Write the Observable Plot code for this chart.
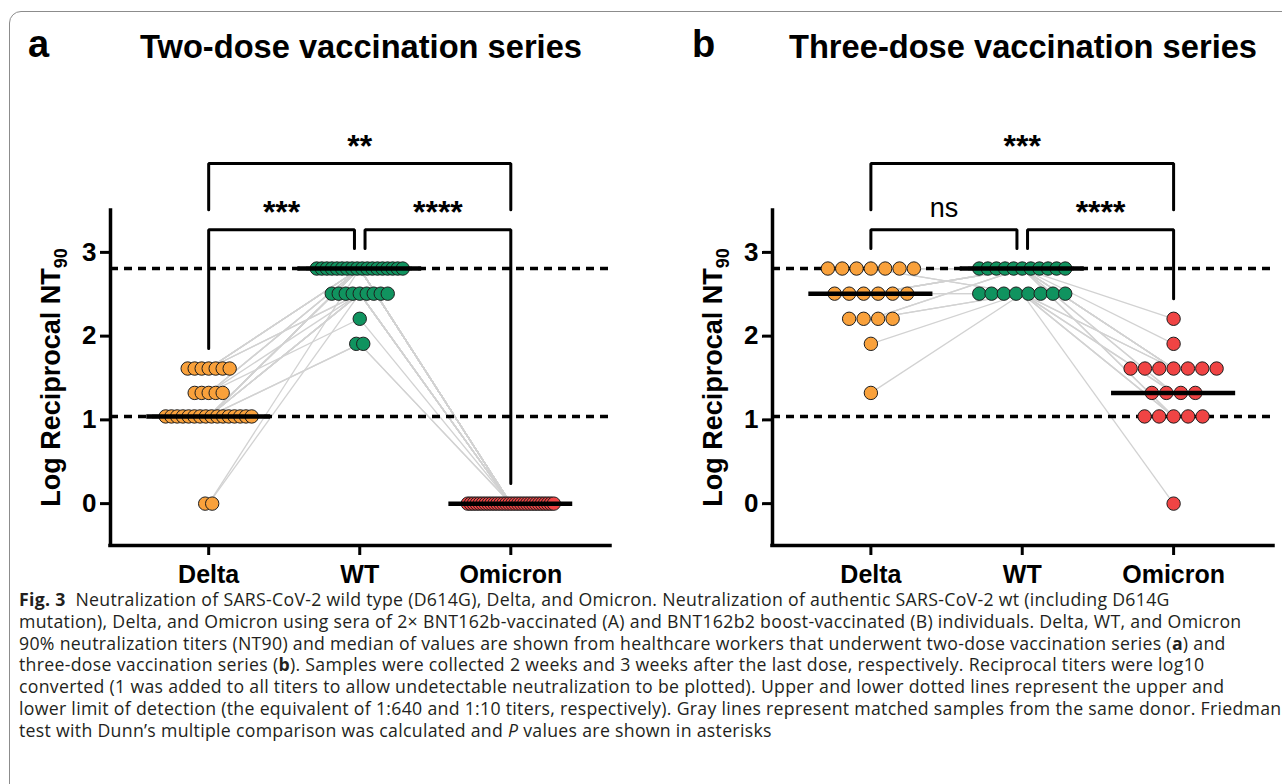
<!DOCTYPE html>
<html><head><meta charset="utf-8">
<script src="https://cdn.jsdelivr.net/npm/d3@7"></script>
<script src="https://cdn.jsdelivr.net/npm/@observablehq/plot@0.6"></script>
<style>
html,body{margin:0;padding:0;background:#fff;width:1282px;height:784px;overflow:hidden;position:relative;}
#frame{position:absolute;left:9px;top:11px;width:1330px;height:830px;border:1.5px solid #8c8c8c;border-radius:12px;}
#titles{position:absolute;left:0;top:0;}
#panelA{position:absolute;left:0;top:100px;}
#panelB{position:absolute;left:641px;top:100px;}
#caption{position:absolute;left:19px;top:589px;font-family:"Open Sans",sans-serif;font-size:17.7px;letter-spacing:0.3px;line-height:21.8px;color:#231f20;white-space:nowrap;}
</style></head><body>
<div id="frame"></div>
<svg id="titles" width="1282" height="90" font-family="Liberation Sans, Arial, sans-serif" font-weight="bold">
<text x="28" y="57" font-size="38">a</text>
<text x="140" y="58" font-size="32.5" textLength="442" lengthAdjust="spacingAndGlyphs">Two-dose vaccination series</text>
<text x="692" y="57" font-size="38">b</text>
<text x="789" y="58" font-size="32.5" textLength="468" lengthAdjust="spacingAndGlyphs">Three-dose vaccination series</text>
</svg>
<div id="panelA"></div>
<div id="panelB"></div>
<div id="caption"><b>Fig. 3</b>&nbsp; Neutralization of SARS-CoV-2 wild type (D614G), Delta, and Omicron. Neutralization of authentic SARS-CoV-2 wt (including D614G<br>mutation), Delta, and Omicron using sera of 2× BNT162b-vaccinated (A) and BNT162b2 boost-vaccinated (B) individuals. Delta, WT, and Omicron<br>90% neutralization titers (NT90) and median of values are shown from healthcare workers that underwent two-dose vaccination series (<b>a</b>) and<br>three-dose vaccination series (<b>b</b>). Samples were collected 2 weeks and 3 weeks after the last dose, respectively. Reciprocal titers were log10<br>converted (1 was added to all titers to allow undetectable neutralization to be plotted). Upper and lower dotted lines represent the upper and<br>lower limit of detection (the equivalent of 1:640 and 1:10 titers, respectively). Gray lines represent matched samples from the same donor. Friedman<br>test with Dunn’s multiple comparison was calculated and <i>P</i> values are shown in asterisks</div>
<script>
const categories = ["Delta", "WT", "Omicron"];
const yTicks = [0, 1, 2, 3];
const detectionLimits = [1.041, 2.807];
const colors = ["#F9A13B", "#10935F", "#F04444"];

// Two-dose series: one entry per donor (log10 reciprocal NT90)
const twoDoseDelta = [0, 0,
  1.041, 1.041, 1.041, 1.041, 1.041, 1.041, 1.041, 1.041, 1.041, 1.041, 1.041, 1.041, 1.041, 1.041, 1.041, 1.041,
  1.322, 1.322, 1.322, 1.322, 1.322,
  1.613, 1.613, 1.613, 1.613, 1.613, 1.613, 1.613];
const twoDoseWT = [2.807, 2.507,
  2.807, 2.507, 2.807, 2.807, 1.908, 2.507, 2.807, 2.807, 2.507, 2.807, 1.908, 2.807, 2.507, 2.807, 2.507, 2.807,
  2.807, 2.207, 2.807, 2.507, 2.807,
  2.807, 2.507, 2.807, 2.807, 2.507, 2.807, 2.807];
const twoDoseOmicron = [0, 0, 0, 0, 0, 0, 0, 0, 0, 0, 0, 0, 0, 0, 0, 0, 0, 0, 0, 0, 0, 0, 0, 0, 0, 0, 0, 0, 0, 0];

// Three-dose series
const threeDoseDelta = [1.322, 1.908, 2.207, 2.207, 2.207, 2.207, 2.507, 2.507, 2.507, 2.507, 2.507, 2.507,
  2.807, 2.807, 2.807, 2.807, 2.807, 2.807, 2.807];
const threeDoseWT = [2.507, 2.507, 2.807, 2.507, 2.807, 2.507, 2.807, 2.807, 2.507, 2.807, 2.507, 2.807,
  2.807, 2.507, 2.807, 2.507, 2.807, 2.807, 2.807];
const threeDoseOmicron = [0, 1.041, 1.613, 1.322, 1.613, 1.041, 2.207, 1.908, 1.613, 1.322, 1.613, 1.041,
  1.613, 1.322, 1.613, 1.041, 1.613, 1.322, 1.041];

const twoDoseStats = [
  {a: 0, b: 2, label: "**", tier: "top"},
  {a: 0, b: 1, label: "***", tier: "low"},
  {a: 1, b: 2, label: "****", tier: "low"}
];
const threeDoseStats = [
  {a: 0, b: 2, label: "***", tier: "top"},
  {a: 0, b: 1, label: "ns", tier: "low"},
  {a: 1, b: 2, label: "****", tier: "low"}
];

function panel(groups, stats, ml, mr, spacing, cap) {
  const width = 641, height = 500, mt = 110, mb = 55;
  const xDomain = [-0.65, 2.66];
  const pxPerUnit = (width - ml - mr) / (xDomain[1] - xDomain[0]);
  const n = groups[0].length;

  const points = [];
  groups.forEach((vals, c) => {
    const rows = d3.group(d3.range(n), i => vals[i]);
    for (const [v, idx] of rows) {
      const k = idx.length;
      const step = k > 1 ? Math.min(spacing, cap / (k - 1)) : 0;
      idx.forEach((i, j) => points.push({x: c + (j - (k - 1) / 2) * step / pxPerUnit, y: v, c}));
    }
  });

  const links = [];
  for (let i = 0; i < n; i++) {
    links.push({x1: 0, y1: groups[0][i], x2: 1, y2: groups[1][i]});
    links.push({x1: 1, y1: groups[1][i], x2: 2, y2: groups[2][i]});
  }

  const medians = groups.map((vals, c) => ({c, y: d3.median(vals)}));
  const maxes = groups.map(v => d3.max(v));

  const gap = 0.035;
  const bracketPts = [], labels = [];
  stats.forEach((s, k) => {
    if (s.tier === "top") {
      bracketPts.push({x: s.a, y: 3.51, z: k}, {x: s.a, y: 4.06, z: k}, {x: s.b, y: 4.06, z: k}, {x: s.b, y: 3.51, z: k});
      labels.push({x: (s.a + s.b) / 2, y: 4.31, text: s.label});
    } else {
      const xa = s.a + (s.a === 1 ? gap : 0), xb = s.b - (s.b === 1 ? gap : 0);
      bracketPts.push({x: xa, y: maxes[s.a] + 0.24, z: k}, {x: xa, y: 3.27, z: k}, {x: xb, y: 3.27, z: k}, {x: xb, y: maxes[s.b] + 0.24, z: k});
      labels.push({x: (xa + xb) / 2, y: 3.52, text: s.label});
    }
  });
  const starLabels = labels.filter(d => d.text !== "ns");
  const nsLabels = labels.filter(d => d.text === "ns");

  const chart = Plot.plot({
    width, height, marginLeft: ml, marginRight: mr, marginTop: mt, marginBottom: mb,
    x: {type: "linear", domain: xDomain, axis: null},
    y: {type: "linear", domain: [-0.5, 3.5], axis: null},
    style: {fontFamily: "Liberation Sans, Arial, sans-serif", fontWeight: "bold", color: "#000", background: "transparent", overflow: "visible"},
    marks: [
      Plot.link(links, {x1: "x1", y1: "y1", x2: "x2", y2: "y2", stroke: "#d2d2d2", strokeWidth: 1.3}),
      Plot.ruleY(detectionLimits, {stroke: "#000", strokeWidth: 3.5, strokeDasharray: "8,6"}),
      Plot.dot(points, {x: "x", y: "y", r: 6.7, fill: d => colors[d.c], stroke: "#1e1e1e", strokeWidth: 1}),
      Plot.ruleY(medians, {y: "y", x1: d => d.c - 0.41, x2: d => d.c + 0.41, stroke: "#000", strokeWidth: 4.5}),
      Plot.ruleX([xDomain[0]], {stroke: "#000", strokeWidth: 3.5, strokeLinecap: "square"}),
      Plot.ruleY([-0.5], {stroke: "#000", strokeWidth: 3.5, strokeLinecap: "square"}),
      Plot.axisY(yTicks, {anchor: "left", tickFormat: d => String(d), tickSize: 10, tickPadding: 4, fontSize: 26, strokeWidth: 3, label: null}),
      Plot.axisX([0, 1, 2], {anchor: "bottom", tickFormat: i => categories[i], tickSize: 10, tickPadding: 10, fontSize: 25, strokeWidth: 3, label: null}),
      Plot.line(bracketPts, {x: "x", y: "y", z: "z", stroke: "#000", strokeWidth: 3, strokeLinejoin: "miter", curve: "linear"}),
      Plot.text(starLabels, {x: "x", y: "y", text: "text", fontSize: 32, fontWeight: "bold", dy: 4, letterSpacing: 3}),
      Plot.text(nsLabels, {x: "x", y: "y", text: "text", fontSize: 27, fontWeight: "normal"})
    ]
  });

  const svg = d3.select(chart);
  const lab = svg.append("text")
    .attr("transform", `translate(${ml - 50},${(mt + height - mb) / 2}) rotate(-90)`)
    .attr("text-anchor", "middle").attr("font-size", 27).attr("font-weight", "bold").attr("fill", "#000");
  lab.append("tspan").text("Log Reciprocal NT");
  lab.append("tspan").attr("font-size", 18).attr("dy", 7).text("90");
  return chart;
}

document.getElementById("panelA").append(
  panel([twoDoseDelta, twoDoseWT, twoDoseOmicron], twoDoseStats, 110, 31, 7, 86));
document.getElementById("panelB").append(
  panel([threeDoseDelta, threeDoseWT, threeDoseOmicron], threeDoseStats, 131, 9, 14.5, 86));
</script>
</body></html>
